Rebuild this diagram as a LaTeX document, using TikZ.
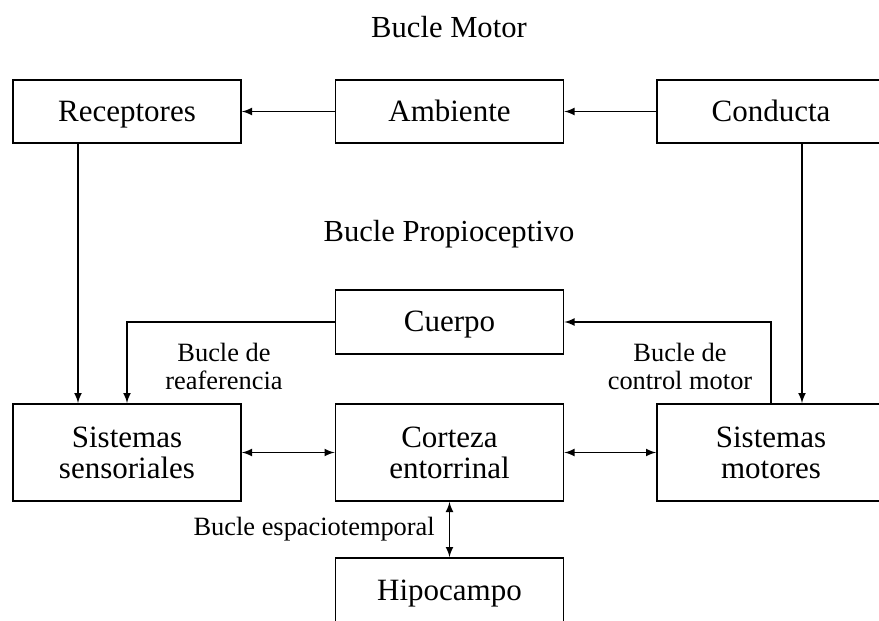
\documentclass[tikz,border=0pt]{standalone}
\usepackage{fontspec}
\setmainfont{Liberation Serif}
\usetikzlibrary{arrows, calc}
\tikzset{>=latex}
\tikzset{
  bloque/.style={draw, line width=0.9pt, minimum width=114pt, minimum height=31.5pt,
    inner sep=0pt, align=center, font=\fontsize{15.5}{15.5}\selectfont},
  simple/.style={bloque, text height=9.5pt, text depth=0pt},
  titulo/.style={font=\fontsize{15.3}{15.3}\selectfont},
  rotulo/.style={align=center, font=\fontsize{13.2}{14}\selectfont}
}

\begin{document}
\begin{tikzpicture}[x=0.5pt, y=-0.5pt]
\useasboundingbox (0,0) rectangle (879,621);

% fila de arriba
\node[simple] (rec) at (127,111.5) {Receptores};
\node[simple] (amb) at (449.5,111.5) {Ambiente};
\node[simple] (con) at (771,111.5) {Conducta};

\node[simple, minimum height=32pt] (cue) at (449.5,322) {Cuerpo};

% fila del medio
\node[bloque, minimum height=48.5pt] (sen) at (127,452.5) {Sistemas\\sensoriales};
\node[bloque, minimum height=48.5pt] (cor) at (449.5,452.5) {Corteza\\entorrinal};
\node[bloque, minimum height=48.5pt] (mot) at (771,452.5) {Sistemas\\motores};

\node[simple, minimum height=33pt] (hip) at (449.5,591) {Hipocampo};

\node[titulo] (tmotor) at (449,27) {Bucle Motor};
\node[titulo] (tprop) at (449,234) {Bucle Propioceptivo};

\path[->, line width=0.75pt]
(con) edge (amb)
(amb) edge (rec)
(cue.west) edge[to path={-| (\tikztotarget)}] (sen.north)
(mot.north) edge[to path={|- (\tikztotarget)}] (cue.east)
;
\draw[->, line width=0.75pt] ([xshift=-24.5pt]rec.south) -- ([xshift=-24.5pt]sen.north);
\draw[->, line width=0.75pt] ([xshift=15.5pt]con.south) -- ([xshift=15.5pt]mot.north);

\path[<->, line width=0.75pt]
(sen) edge (cor)
(cor) edge (mot)
(cor) edge node[anchor=east, rotulo, inner sep=7pt] {Bucle espaciotemporal} (hip)
;

\node[rotulo] (lreaf) at (224,366) {Bucle de\\reaferencia};
\node[rotulo] (lctrl) at (680,366) {Bucle de\\control motor};
\end{tikzpicture}
\end{document}
